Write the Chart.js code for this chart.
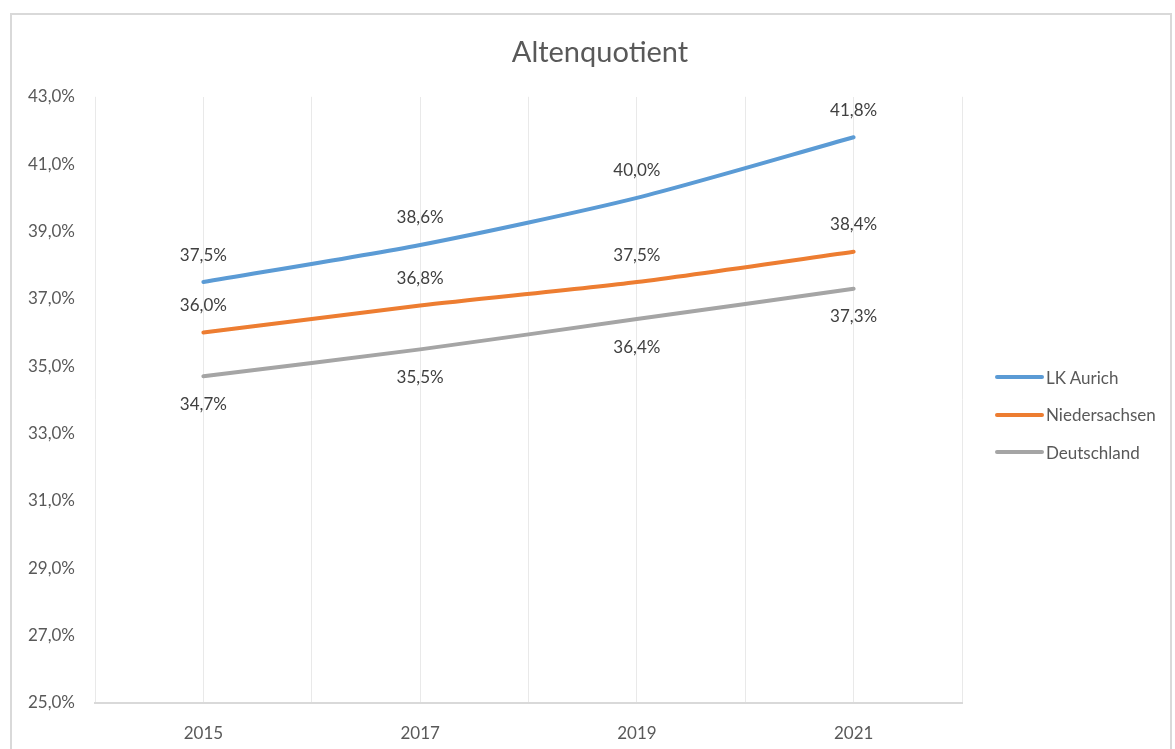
<!DOCTYPE html>
<html>
<head>
<meta charset="utf-8">
<title>Altenquotient</title>
<script src="https://cdn.jsdelivr.net/npm/chart.js@4.4.0/dist/chart.umd.min.js"></script>
<style>
  html, body { margin: 0; padding: 0; background: #fff; }
  #wrap { position: relative; width: 1175px; height: 749px; overflow: hidden; }
  #frame { position: absolute; left: 10px; top: 13px; width: 1162px; height: 760px;
           border: 2px solid #d9d9d9; box-sizing: border-box; }
  #chart { position: absolute; left: 0; top: 0; }
  #legend { position: absolute; left: 995px; top: 0; font-family: Lato, sans-serif;
            font-size: 17px; color: #595959; }
  .item { position: absolute; left: 0; height: 20px; display: flex; align-items: center; white-space: nowrap; }
  .swatch { width: 49px; height: 4px; border-radius: 2px; margin-right: 2px; }
</style>
</head>
<body>
<div id="wrap">
  <div id="frame"></div>
  <canvas id="chart" width="1175" height="749"></canvas>
  <div id="legend"></div>
</div>
<script>
// ---------- Data ----------
const years = ['2015', '2017', '2019', '2021'];
const lkAurich = [37.5, 38.6, 40.0, 41.8];
const niedersachsen = [36.0, 36.8, 37.5, 38.4];
const deutschland = [34.7, 35.5, 36.4, 37.3];
const seriesNames = ['LK Aurich', 'Niedersachsen', 'Deutschland'];
const seriesColors = ['#5b9bd5', '#ed7d31', '#a5a5a5'];
const labelSide = ['above', 'above', 'below'];
const yTicks = { min: 25, max: 43, step: 2 };

const fmtPct = (v) => v.toFixed(1).replace('.', ',') + '%';
const textColor = '#595959';
const gridColor = '#e9e9e9';

Chart.defaults.font.family = 'Lato, sans-serif';

// ---------- Data labels ----------
const pointLabels = {
  id: 'pointLabels',
  afterDatasetsDraw(chart) {
    const ctx = chart.ctx;
    ctx.save();
    ctx.font = '17px Lato, sans-serif';
    ctx.fillStyle = '#404040';
    ctx.textAlign = 'center';
    ctx.textBaseline = 'middle';
    chart.data.datasets.forEach((ds, i) => {
      const meta = chart.getDatasetMeta(i);
      meta.data.forEach((pt, j) => {
        const dy = labelSide[i] === 'above' ? -27 : 28;
        ctx.fillText(fmtPct(ds.data[j]), pt.x, pt.y + dy);
      });
    });
    ctx.restore();
  }
};

const datasets = [lkAurich, niedersachsen, deutschland].map((data, i) => ({
  label: seriesNames[i],
  data,
  borderColor: seriesColors[i],
  backgroundColor: seriesColors[i],
  borderWidth: 4,
  borderCapStyle: 'round',
  pointRadius: 0,
  tension: 0.25,
  fill: false,
}));

new Chart(document.getElementById('chart'), {
  type: 'line',
  data: { labels: years, datasets },
  options: {
    responsive: false,
    animation: false,
    devicePixelRatio: 1,
    layout: { padding: { left: 25, right: 0, top: 0, bottom: 0 } },
    plugins: {
      legend: { display: false },
      tooltip: { enabled: false },
      title: {
        display: true,
        text: 'Altenquotient',
        color: textColor,
        font: { size: 29, weight: 'normal' },
        padding: { top: 35, bottom: 27 },
      },
    },
    scales: {
      x: {
        type: 'category',
        offset: true,
        grid: { offset: true, color: gridColor, drawTicks: false },
        border: { color: '#d9d9d9', width: 2 },
        ticks: { color: textColor, font: { size: 17 }, padding: 20 },
        afterFit: (s) => { s.height = 46; },
      },
      // second category axis only for the grid lines through each year
      x2: {
        type: 'category',
        position: 'top',
        offset: true,
        grid: { offset: false, color: gridColor, drawTicks: false },
        border: { display: false },
        ticks: { display: false },
        afterFit: (s) => { s.height = 0; },
      },
      y: {
        min: yTicks.min,
        max: yTicks.max,
        grid: { display: false, drawTicks: false },
        border: { display: false },
        ticks: { stepSize: yTicks.step, color: textColor, font: { size: 17 }, padding: 20, callback: fmtPct },
        afterFit: (s) => { s.width = 70; },
      },
      // empty right axis keeps room for the legend
      yRight: {
        type: 'linear',
        position: 'right',
        grid: { display: false, drawTicks: false },
        border: { display: false },
        ticks: { display: false },
        afterFit: (s) => { s.width = 213; },
      },
    },
  },
  plugins: [pointLabels],
});

// ---------- Legend ----------
const legend = document.getElementById('legend');
seriesNames.forEach((name, i) => {
  const item = document.createElement('div');
  item.className = 'item';
  item.style.top = (367 + i * 37.5) + 'px';
  const sw = document.createElement('span');
  sw.className = 'swatch';
  sw.style.background = seriesColors[i];
  const txt = document.createElement('span');
  txt.textContent = name;
  item.appendChild(sw);
  item.appendChild(txt);
  legend.appendChild(item);
});
</script>
</body>
</html>
